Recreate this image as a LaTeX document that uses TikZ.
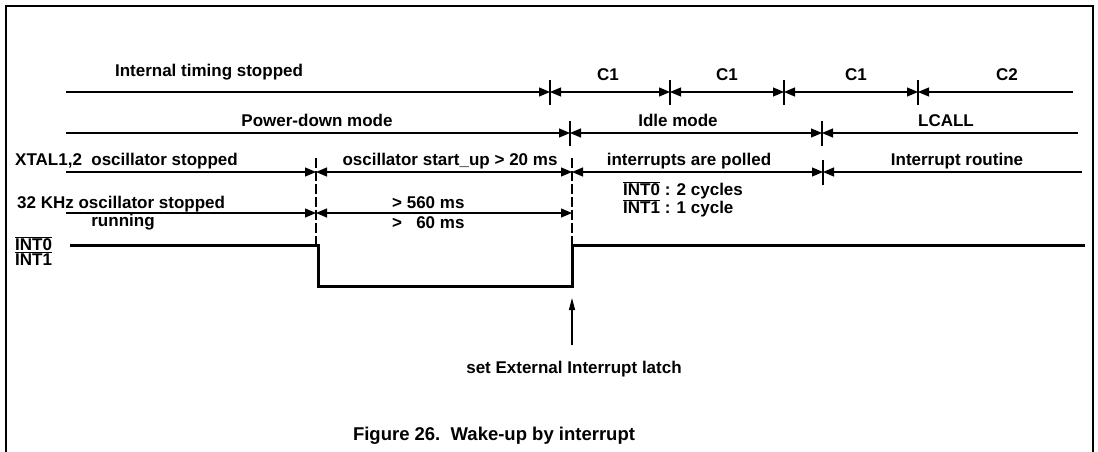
\documentclass[tikz,border=0pt]{standalone}
\usepackage{fontspec}
\setmainfont{Liberation Sans}
\usetikzlibrary{arrows.meta}
\newcommand\myovl[1]{$\overline{\mbox{#1}}$}
\begin{document}
\begin{tikzpicture}[x=1pt,y=-1pt,
  lbl/.style={font=\fontsize{17}{20}\selectfont\bfseries, inner sep=0pt, anchor=base},
  lblw/.style={lbl, anchor=base west},
  dimline/.style={line width=1.2pt},
  tickmark/.style={line width=1.2pt},
  vdash/.style={line width=1.2pt, dash pattern=on 10pt off 3pt},
  sig/.style={line width=3pt},
  frameline/.style={line width=1.5pt},
  >={Triangle[length=11pt,width=9pt]}]

\useasboundingbox (0,0) rectangle (1098,452);

% frame
\draw[frameline] (6,452) -- (6,6) -- (1093,6) -- (1093,452);

% ---------- row 1 : internal timing ----------
\coordinate (r1s) at (66,92);
\coordinate (r1a) at (550,92);
\coordinate (r1b) at (670,92);
\coordinate (r1c) at (784,92);
\coordinate (r1d) at (918,92);
\coordinate (r1e) at (1073,92);
\draw[dimline,->] (r1s) -- (r1a);
\draw[dimline,<->] (r1a) -- (r1b);
\draw[dimline,<->] (r1b) -- (r1c);
\draw[dimline,<->] (r1c) -- (r1d);
\draw[dimline,<-] (r1d) -- (r1e);
\foreach \p in {r1a,r1b,r1c,r1d} \draw[tickmark] (\p) ++(0,-12) -- ++(0,25);

\node[lbl] (its) at (209,77) {Internal timing stopped};
\node[lbl] (c1a) at (608,81) {C1};
\node[lbl] (c1b) at (727,81) {C1};
\node[lbl] (c1c) at (856,81) {C1};
\node[lbl] (c2)  at (1007,81) {C2};

% ---------- row 2 : modes ----------
\coordinate (r2s) at (66,133);
\coordinate (r2a) at (570,133);
\coordinate (r2b) at (822,133);
\coordinate (r2e) at (1078,133);
\draw[dimline,->] (r2s) -- (r2a);
\draw[dimline,<->] (r2a) -- (r2b);
\draw[dimline,<-] (r2b) -- (r2e);
\foreach \p in {r2a,r2b} \draw[tickmark] (\p) ++(0,-12) -- ++(0,25);

\node[lbl] (pdm) at (317,126) {Power-down mode};
\node[lbl] (idm) at (678,126) {Idle mode};
\node[lbl] (lcall) at (946,126) {LCALL};

% ---------- row 3 : XTAL ----------
\coordinate (r3s) at (66,172);
\coordinate (r3a) at (316,172);
\coordinate (r3b) at (572,172);
\coordinate (r3c) at (823,172);
\coordinate (r3e) at (1082,172);
\draw[dimline,->] (r3s) -- (r3a);
\draw[dimline,<->] (r3a) -- (r3b);
\draw[dimline,<->] (r3b) -- (r3c);
\draw[dimline,<-] (r3c) -- (r3e);
\draw[tickmark] (r3c) ++(0,-12) -- ++(0,25);

\node[lblw] (xtal) at (15,165) {XTAL1,2\ \ oscillator stopped};
\node[lbl] (osu) at (450,165) {oscillator start\_up \textgreater\ 20 ms};
\node[lbl] (iap) at (689,165) {interrupts are polled};
\node[lbl] (irt) at (957,165) {Interrupt routine};

\node[lblw] (i0c) at (623,195) {\myovl{INT0} : 2 cycles};
\node[lblw] (i1c) at (623,213) {\myovl{INT1} : 1 cycle};

% ---------- row 4 : 32 KHz ----------
\coordinate (r4s) at (66,213);
\coordinate (r4a) at (316,213);
\coordinate (r4b) at (572,213);
\draw[dimline,->] (r4s) -- (r4a);
\draw[dimline,<->] (r4a) -- (r4b);

\node[lblw] (khz) at (17,208) {32 KHz oscillator stopped};
\node[lbl] (run) at (123,226) {running};
\node[lblw] (t560) at (392,208) {\textgreater\ 560 ms};
\node[lblw] (t60) at (392,228) {\textgreater\ \ \ 60 ms};

% dashed verticals
\coordinate (d1t) at (316,158);
\coordinate (d1b) at (316,245);
\coordinate (d2t) at (572,158);
\coordinate (d2b) at (572,245);
\draw[vdash] (d1t) -- (d1b);
\draw[vdash] (d2t) -- (d2b);

% ---------- signal ----------
\node[lblw] (int0) at (15,250) {\myovl{INT0}};
\node[lblw] (int1) at (15,265) {\myovl{INT1}};
\coordinate (w0) at (70,245);
\coordinate (w1) at (318,245);
\coordinate (w2) at (318,286);
\coordinate (w3) at (572,286);
\coordinate (w4) at (572,245);
\coordinate (w5) at (1085,245);
\draw[sig] (w0) -- (w1) -- (w2) -- (w3) -- (w4) -- (w5);

% ---------- latch arrow ----------
\node[lbl] (latch) at (574,373) {set External Interrupt latch};
\coordinate (arrbot) at (572,345);
\coordinate (arrtop) at (572,298);
\draw[line width=1.2pt,-{Triangle[length=12pt,width=6pt]}] (arrbot) -- (arrtop);

% caption
\node[lbl, font=\fontsize{18.5}{22}\selectfont\bfseries] (cap) at (494,440) {Figure 26.\ \ Wake-up by interrupt};

\end{tikzpicture}
\end{document}
